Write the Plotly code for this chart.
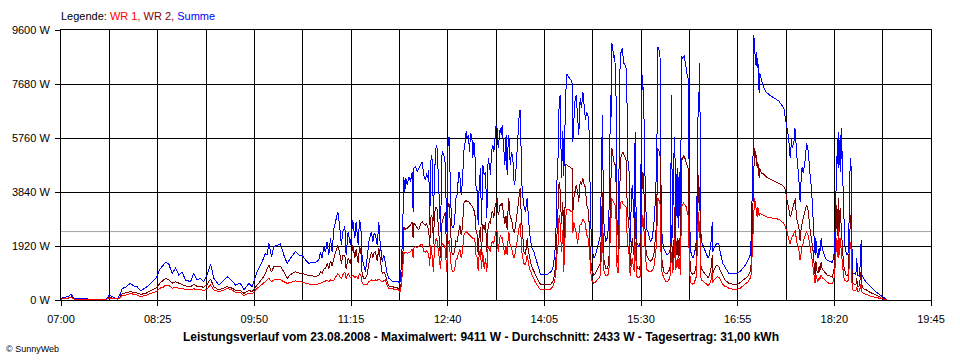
import plotly.graph_objects as go

# ---------------- data ----------------
tick_labels = ["07:00", "08:25", "09:50", "11:15", "12:40", "14:05", "15:30", "16:55", "18:20", "19:45"]
y_tick_values = [0, 1920, 3840, 5760, 7680, 9600]
average_w = 2433
series_names = ["WR 1", "WR 2", "Summe"]

# minutes after 07:00
minutes = [
    0, 3, 6, 9, 11, 14, 20, 25, 30, 35, 40, 42, 45, 48, 50, 52, 54, 57, 59, 61, 64, 67, 70, 72, 75, 78, 81, 84, 87, 90,
    91.9, 94.8, 97.7, 100.7, 103.6, 106.5, 109.5, 113.9, 116.8, 119.7, 122.7, 125.6, 128.5, 131.5, 134.4, 138.8,
    141.7, 146.1, 150.5, 153.4, 157.8, 160.8, 165.2, 168.1, 172.5, 176.9, 179.8,
    181.3, 182.7, 185.1, 187.1, 190.1, 193.0, 195.9, 198.9, 201.8, 206.2, 209.1, 212.1, 215.0, 217.9, 220.8, 223.8,
    226.7, 228.2, 229.6, 231.1, 232.6, 234.0, 235.5, 237.0, 238.4, 239.9, 241.4, 242.5, 243.4, 244.9, 246.6, 247.8,
    249.6, 250.7, 252.5, 254.5, 256.6, 258.4, 259.5, 261.3, 262.5, 263.6, 264.8, 266.3, 267.7, 269.2, 270.7, 273.0,
    274.2, 275.4, 276.5,
    278.0, 279.5, 280.3, 281.5, 282.4, 283.9, 285.3, 286.8, 288.3, 291.2, 294.1, 297.0, 297.9, 299.1, 300.3, 301.4,
    302.3, 303.2, 304.4, 305.8, 307.3, 308.8, 309.6, 310.2, 311.7, 313.2, 314.6, 316.1, 317.6, 319.0, 320.5, 321.4,
    322.5, 323.4, 324.3, 324.9, 325.8, 326.6, 327.5, 328.4, 329.9, 330.8, 332.2, 333.7, 335.1, 336.6, 338.1, 339.0,
    340.4, 341.3, 342.5, 343.4, 344.8, 346.0, 347.2, 348.3, 349.8, 350.7, 351.9, 353.0, 354.2, 355.1, 356.3, 357.1,
    358.3, 359.2, 360.1, 361.2, 362.1, 363.0, 363.9, 364.8, 366.0, 366.8, 367.7, 368.9,
    369.7, 370.9, 372.1, 373.3, 374.4, 375.6, 376.8, 377.7, 378.5, 379.7, 380.6, 381.5, 382.6, 383.5, 384.4, 385.0,
    386.2, 387.3, 387.9, 389.1, 390.3, 391.4, 392.3, 393.2, 393.8, 395.0, 396.1, 397.3, 398.5, 399.6, 400.8, 402.0,
    402.9, 403.7, 404.6, 405.5, 407.0, 408.4, 409.9, 410.8, 411.9, 413.1, 414.3, 415.8, 417.2, 418.7, 420.2, 421.6,
    424.5, 427.5, 430.4, 432.5, 434.2, 435.4, 436.3, 437.2, 438.0, 438.9, 440.1, 441.3, 442.1, 443.0, 443.9, 444.8,
    445.9, 447.1, 448.3, 449.5, 450.1, 450.9, 451.8, 453.0, 454.2, 455.3, 456.5, 457.7, 458.9, 460.0,
    461.2, 462.1, 463.2, 464.1, 465.0, 465.6, 466.2, 467.0, 468.5, 470.0, 471.4, 472.9, 474.4, 475.2, 476.1, 476.7,
    477.3, 478.8, 480.2, 481.7, 482.6, 483.2, 483.7, 484.3, 484.9, 485.5, 486.1, 486.7, 487.3, 487.9, 488.4, 489.0,
    489.9, 490.5, 491.4, 492.0, 492.5, 493.1, 493.7, 494.3, 494.9, 495.8, 496.6, 497.2, 497.8, 498.7, 499.6, 500.2,
    500.7, 501.6, 502.5, 503.4, 504.3, 504.8, 505.4, 506.0, 507.2, 508.4, 509.5, 510.4, 511.3, 511.9, 512.5, 513.1,
    513.9, 514.8, 516.0, 517.2, 518.3, 519.8, 521.3, 522.7, 523.6, 524.2, 524.8, 525.7, 526.2, 526.8, 527.4, 528.0,
    528.9, 530.1, 531.5, 533.0, 534.5, 535.9, 536.8, 537.7, 538.8, 539.7, 540.6, 541.8, 542.7, 543.5, 544.7, 545.6,
    546.5, 547.4, 548.2, 549.1, 550.0, 550.6, 551.4, 552.3, 553.3,
    554.4, 555.6, 556.7, 557.9, 558.8, 559.4, 560.0, 560.5, 561.1, 561.7, 562.3, 563.2, 564.3, 565.5, 566.7, 567.9,
    569.0, 570.2, 571.1, 572.0, 572.6, 573.1, 574.0, 575.5, 577.0, 578.4, 579.6, 580.8, 581.9, 583.7, 585.7, 587.2,
    590.1, 593.1, 595.4, 597.5, 599.5, 601.9, 604.2, 606.0, 606.9, 607.7, 608.3, 608.9, 609.2, 609.8, 610.4, 610.9,
    611.5, 612.1, 612.7, 613.3, 613.9, 614.5, 615.1, 615.9, 617.1, 618.3, 619.5, 620.9, 622.4, 623.8, 625.3, 626.8,
    628.2, 629.7, 631.2, 632.6, 634.1, 635.6, 636.5, 637.6, 638.5, 639.4, 640.3, 641.2, 641.7, 642.3, 642.9, 643.8,
    644.7, 645.2, 645.8,
    646.7, 647.3, 647.9, 648.8, 649.3, 649.9, 650.5, 651.1, 651.7, 652.6, 653.2, 653.7, 654.6, 655.5, 656.4, 657.3,
    658.1, 659.0, 659.6, 660.2, 660.8, 661.4, 661.9, 662.5, 663.1, 663.7, 664.3, 664.9, 665.5, 666.1, 666.6, 667.2,
    667.8, 668.4, 669.3, 670.2, 671.3, 672.2, 673.7, 675.1, 676.6, 678.1, 679.5, 680.4, 681.3, 682.2, 682.8, 683.3,
    683.9, 684.5, 685.1, 685.7, 686.3, 686.9, 687.4, 688.3, 689.2, 690.1, 691.3, 692.4, 693.3, 693.9, 694.5, 695.1,
    695.7, 696.5, 697.7, 698.9, 699.8, 700.3, 701.2, 702.1, 703.0, 703.6, 704.2, 705.3, 706.5, 708.3, 710.3, 712.4,
    714.7, 717.1, 719.4, 721.7, 723.5, 725.3, 726.4,
]

summe_w = [
    60, 100, 120, 200, 80, 40, 50, 30, 20, 30, 30, 160, 130, 60, 70, 200, 415, 450, 530, 593, 500, 470, 330, 380, 450, 560, 680, 800, 1100, 1250,
    1340, 1280, 948, 1126, 889, 984, 711, 652, 948, 711, 770, 652, 889, 1280, 770, 533,
    652, 830, 676, 533, 593, 356, 593, 474, 1007, 1363, 1659,
    1600, 2015, 1541, 1897, 1956, 1990, 1600, 1304, 1482, 1719, 1600, 1580, 1423, 1304, 1340, 1340,
    1423, 1700, 1500, 1900, 1700, 2074, 1600, 2193, 1700, 2548, 2785, 3000, 3141, 2667, 1956, 2430,
    2608, 1600, 2430, 1956, 2845, 2193, 2785, 1956, 2845, 2667, 1482, 1245, 1008, 1482, 2075, 2430,
    2075, 2371, 2312,
    1956, 2762, 2193, 1600, 1363, 1600, 1245, 949, 771, 676, 652, 652, 534, 1126, 2193, 4386,
    3853, 4327, 4090, 4386, 4208, 4564, 3141, 4682, 4742, 4564, 4682, 4801, 4919, 4445, 4267, 4504,
    4327, 4623, 2667, 4800, 5156, 4919, 2800, 4500, 5512, 5393, 3853, 2430, 5275, 5156, 4801, 2430,
    5690, 5808, 3853, 2667, 2549, 2726, 3615, 3734, 4564, 4445, 3734, 4208, 5275, 5512, 6010, 5749,
    5868, 5275, 5927, 5868, 5038, 5631, 5275, 4090, 3853, 2667, 4090, 4682,
    2667, 4801, 4445, 4564, 2904, 5038, 4801, 4445, 5275, 5512, 5275, 5868, 6223, 6105, 5393, 5631,
    6105, 5868, 6223, 5512, 4801, 5868, 4445, 5631, 5868, 4801, 5275, 5038, 4090, 4327, 5275, 6010,
    6579, 6757, 5038, 3853, 3378, 3141, 3615, 2904, 2430, 2075, 1838, 1719, 1541, 1363, 1126, 913,
    889, 913, 984, 1126, 1600, 2667, 4564, 5156, 7000, 7290, 4327, 6000, 4400, 6223, 7408, 8025,
    7942, 7882, 7823, 7705, 5631, 6342, 7053, 7290, 6697, 5868, 7171, 6816, 7408, 6816,
    6400, 6674, 6579, 6460, 4500, 3000, 2200, 1838, 1482, 1600, 1800, 2000, 2300, 4682, 6579, 4200,
    2800, 2075, 2193, 2667, 6223, 7290, 6500, 9127, 9009, 8831, 8594, 8712, 8238, 8001, 5038, 2430,
    2300, 3853, 8001, 8831, 8771, 8890, 8949, 8594, 8416, 8357, 8297, 8179, 5986, 4682, 4564, 2667,
    2075, 3853, 4090, 3141, 2667, 5986, 4682, 2075, 1956, 1900, 2075, 6816, 8001, 7408, 6934, 5038,
    3141, 2549, 2430, 2193, 2075, 2193, 2667, 3615, 4682, 6223, 9009, 8949, 8712, 8594, 4801, 2667,
    2075, 1838, 1719, 1600, 1660, 1838, 7290, 2193, 5038, 5808, 2667, 4682, 2549, 4564, 2193, 8653,
    8594, 8653, 8712, 8357, 8238, 8001, 7882, 4682, 1838,
    1600, 1482, 1600, 1838, 2193, 5986, 6223, 7408, 6816, 8416, 2667, 2075, 1956, 1778, 1719, 1600,
    1482, 1600, 2015, 2193, 2786, 1719, 1838, 1956, 2015, 2015, 1719, 1482, 1304, 1186, 1067, 949,
    949, 949, 960, 1032, 1126, 1245, 1423, 1600, 2193, 3853, 5038, 5868, 9411, 9068, 8949, 8357,
    8831, 8238, 8594, 8120, 7349, 8060, 8001, 7823, 7645, 7527, 7408, 7349, 7314, 7266, 7231, 7195,
    7171, 7112, 7077, 6994, 6911, 6816, 6579, 6342, 6105, 5868, 5512, 5038, 5275, 5749, 5393, 5512,
    5690, 6105, 5986,
    5275, 5038, 4682, 4327, 3853, 3497, 4090, 4564, 4742, 4504, 4682, 4801, 5038, 5571, 5393, 5275,
    4682, 4208, 3853, 3853, 3141, 2904, 2430, 1956, 1600, 2193, 1719, 1600, 1482, 1600, 1838, 1600,
    1956, 2193, 1838, 1719, 1600, 1482, 1423, 1387, 1363, 1340, 1482, 2075, 3615, 5038, 5749, 4682,
    5986, 4801, 5868, 4564, 6105, 5038, 4208, 2667, 1956, 1719, 1600, 1719, 3853, 4801, 5038, 4090,
    1008, 949, 949, 889, 1482, 889, 889, 830, 1482, 2134, 889, 771, 711, 629, 534, 474,
    356, 273, 202, 119, 59, 24, 0,
]

wr2_w = [
    30, 50, 60, 110, 40, 20, 25, 15, 10, 15, 15, 90, 70, 30, 40, 110, 237, 250, 280, 296, 270, 250, 200, 210, 240, 320, 380, 430, 600, 700,
    770, 720, 600, 650, 593, 560, 500, 474, 560, 480, 480, 450, 560, 750, 470, 356,
    400, 474, 420, 340, 330, 237, 340, 300, 533, 750, 950,
    1100, 1250, 1000, 1186, 1186, 1200, 1000, 771, 900, 1008, 960, 950, 900, 889, 860, 830,
    870, 1000, 950, 1100, 1126, 1300, 1100, 1400, 1200, 1482, 1700, 1800, 1956, 1700, 1300, 1600,
    1600, 1100, 1500, 1300, 1956, 1500, 1800, 1300, 1897, 1800, 900, 771, 771, 900, 1300, 1719,
    1500, 1700, 1719,
    1400, 1837, 1600, 1200, 949, 1000, 900, 650, 500, 474, 440, 415, 297, 600, 1200, 2608,
    2500, 2550, 2549, 2600, 2667, 2786, 2200, 2750, 2667, 2600, 2489, 2700, 2786, 2700, 2667, 2700,
    2600, 2430, 1900, 2904, 3000, 2900, 2000, 3100, 3319, 3200, 2430, 1500, 2786, 3000, 3141, 1500,
    3438, 3400, 2667, 1700, 1600, 1700, 2100, 2075, 2500, 2667, 2300, 2600, 3438, 3500, 3556, 3500,
    3497, 3450, 3400, 3378, 3300, 3200, 3100, 2500, 2300, 1600, 2300, 2600,
    1600, 2700, 2500, 2786, 1700, 2600, 2800, 2700, 3100, 3141, 2904, 3300, 3500, 3615, 3023, 3100,
    3400, 3378, 3450, 3000, 2700, 3000, 2500, 3300, 3615, 2900, 2900, 2549, 2400, 2600, 3023, 3300,
    3800, 3971, 3141, 2430, 1719, 1600, 2193, 1800, 1500, 1300, 1150, 1000, 900, 771, 652, 557,
    534, 534, 557, 652, 950, 1600, 2667, 3200, 4208, 3900, 2700, 3500, 1600, 2904, 4801, 4801,
    4760, 4742, 4700, 4682, 3141, 3615, 3900, 4090, 3853, 3500, 4208, 4100, 4327, 4100,
    4000, 3378, 3300, 3000, 2000, 1482, 1200, 1008, 889, 950, 1050, 1150, 1300, 2667, 3853, 2075,
    1482, 1126, 1100, 1300, 2430, 3615, 4200, 5393, 5275, 5038, 4919, 4900, 4801, 4682, 2667, 1400,
    1300, 2300, 4801, 5038, 5100, 5156, 5200, 5275, 5156, 5100, 5038, 4900, 3378, 2900, 2500, 1482,
    1200, 2000, 2193, 1700, 1482, 3141, 2700, 1245, 1126, 1100, 1245, 3141, 4564, 4500, 3971, 3000,
    2000, 1600, 1500, 1400, 1380, 1450, 1600, 2193, 2667, 4000, 5393, 5300, 5275, 5100, 2800, 1600,
    1245, 1008, 949, 949, 1030, 1245, 2667, 1245, 1719, 3300, 1482, 2193, 1500, 2200, 1245, 5038,
    4979, 5156, 5100, 4919, 4850, 4801, 4700, 2667, 1067,
    949, 913, 949, 1067, 1300, 2600, 3200, 4445, 3300, 4000, 1300, 1100, 1050, 950, 900, 850,
    800, 880, 1000, 1245, 1600, 950, 1067, 1186, 1245, 1186, 1067, 949, 830, 720, 652, 600,
    569, 557, 569, 629, 700, 771, 850, 1008, 1300, 2300, 3200, 3853, 5275, 5393, 5275, 5038,
    5156, 4682, 4919, 4564, 4327, 4682, 4564, 4504, 4504, 4460, 4386, 4350, 4327, 4300, 4267, 4240,
    4208, 4180, 4149, 4110, 4090, 4030, 3971, 3734, 3497, 3319, 3141, 2964, 3000, 3141, 3200, 3319,
    3438, 3480, 3615,
    2904, 2786, 2700, 2608, 2300, 2100, 2430, 2667, 2750, 2900, 3023, 3100, 3260, 3378, 3300, 3100,
    2667, 2430, 2300, 2193, 1956, 1719, 1423, 1200, 889, 1400, 1100, 1000, 950, 1000, 1200, 1000,
    1200, 1363, 1100, 1050, 1008, 930, 889, 870, 830, 818, 1008, 1400, 2300, 3378, 2800, 2193,
    3615, 2430, 3260, 2700, 2600, 2200, 1700, 1200, 1000, 900, 866, 949, 2193, 2667, 3023, 2193,
    652, 593, 560, 534, 771, 474, 474, 520, 889, 1008, 534, 415, 380, 356, 297, 260,
    200, 150, 119, 59, 30, 12, 0,
]

wr1_w = [
    30, 50, 60, 90, 40, 20, 25, 15, 10, 15, 15, 70, 60, 30, 30, 90, 154, 170, 200, 237, 200, 180, 120, 130, 170, 220, 270, 300, 420, 460,
    533, 520, 420, 450, 415, 400, 370, 356, 400, 360, 370, 340, 400, 533, 360, 296,
    330, 415, 350, 280, 260, 154, 250, 220, 415, 550, 650,
    711, 770, 650, 711, 711, 720, 650, 593, 620, 676, 650, 640, 600, 557, 540, 534,
    560, 600, 620, 650, 652, 700, 650, 720, 680, 711, 800, 900, 948, 850, 750, 900,
    1000, 760, 950, 800, 889, 800, 850, 760, 949, 900, 600, 534, 534, 560, 650, 711,
    700, 711, 711,
    700, 740, 720, 680, 650, 680, 711, 520, 420, 400, 380, 356, 260, 500, 1000, 1719,
    1650, 1700, 1660, 1700, 1719, 1800, 1500, 1850, 1897, 1860, 1900, 1956, 1956, 1719, 1700, 1750,
    1700, 1600, 1200, 1956, 1800, 1200, 1000, 1900, 2193, 2100, 1600, 1100, 2000, 1956, 1800, 1000,
    2075, 2100, 1482, 1100, 1000, 1050, 1400, 1482, 1700, 1800, 1500, 1700, 2312, 2350, 2430, 2400,
    2350, 2312, 2312, 2250, 2200, 2193, 2150, 1600, 1500, 1050, 1600, 1800,
    1100, 1700, 1100, 1482, 1000, 1900, 1800, 1719, 2000, 2100, 2015, 2300, 2489, 2430, 1719, 1956,
    2300, 2193, 2250, 1900, 1600, 1900, 1600, 2200, 2430, 1900, 1900, 1600, 1500, 1700, 2075, 2400,
    2600, 2726, 2015, 1600, 1304, 1245, 1600, 1300, 1100, 1000, 880, 720, 620, 534, 415, 356,
    356, 356, 391, 474, 700, 1100, 1719, 2000, 3023, 2700, 1700, 2500, 1008, 2000, 3000, 3201,
    3201, 3201, 3150, 3141, 2400, 2786, 2600, 2400, 2000, 2400, 2700, 2700, 2880, 2800,
    2700, 2312, 2250, 2000, 1400, 1126, 850, 676, 593, 640, 700, 780, 900, 1719, 2667, 1482,
    1067, 860, 850, 950, 1719, 2430, 2900, 3615, 3560, 3497, 3450, 3400, 3378, 3141, 1800, 1000,
    950, 1500, 3201, 3438, 3500, 3497, 3500, 3400, 3378, 3350, 3319, 3300, 2193, 1800, 1600, 1008,
    860, 1400, 1482, 1100, 1008, 2075, 1700, 860, 800, 800, 850, 2075, 3023, 2900, 2430, 2000,
    1400, 1100, 1050, 1000, 1000, 1050, 1150, 1600, 1956, 2800, 3615, 3556, 3500, 3400, 2000, 1067,
    913, 771, 676, 652, 711, 889, 1719, 949, 1245, 2200, 1067, 1482, 1100, 1500, 900, 3438,
    3378, 3438, 3400, 3378, 3300, 3141, 3000, 1719, 652,
    593, 557, 593, 711, 850, 1800, 2400, 3141, 2300, 2800, 900, 700, 680, 620, 600, 560,
    520, 560, 650, 771, 1008, 620, 711, 771, 830, 813, 711, 629, 557, 480, 463, 420,
    391, 391, 391, 427, 500, 557, 652, 771, 900, 1600, 2300, 2700, 3400, 3615, 3497, 3319,
    3260, 2964, 3319, 3141, 3000, 3080, 3080, 3050, 3023, 3000, 2964, 2950, 2940, 2930, 2920, 2910,
    2904, 2890, 2870, 2830, 2786, 2726, 2650, 2550, 2430, 2250, 2080, 1980, 2100, 2193, 2250, 2300,
    2371, 2400, 2489,
    2075, 2015, 1956, 1838, 1482, 1423, 1600, 1838, 1900, 2000, 2193, 2250, 2312, 2430, 2350, 2250,
    2015, 1838, 1719, 1482, 1363, 1126, 1008, 889, 593, 900, 800, 700, 650, 700, 800, 720,
    820, 889, 800, 760, 740, 680, 629, 600, 593, 581, 711, 1000, 1600, 2193, 1900, 1482,
    2549, 1600, 2193, 1900, 1700, 1500, 1100, 800, 700, 680, 652, 711, 1600, 1900, 2075, 1482,
    415, 356, 340, 320, 474, 297, 297, 330, 474, 590, 297, 237, 220, 202, 154, 119,
    110, 83, 59, 36, 20, 10, 0,
]

title_text = ("Leistungsverlauf vom 23.08.2008 - Maximalwert: 9411 W - Durchschnitt: 2433 W"
              " - Tagesertrag: 31,00 kWh")
legend_prefix = "Legende: "
copyright_text = "© SunnyWeb"

colors = {"WR 1": "#FF0000", "WR 2": "#800000", "Summe": "#0000FF"}

# ---------------- figure ----------------
def to_minutes(label):
    h, m = label.split(":")
    return (int(h) - 7) * 60 + int(m)

tick_pos = [to_minutes(s) for s in tick_labels]

fig = go.Figure()
fig.add_trace(go.Scatter(x=minutes, y=summe_w, mode="lines", name="Summe",
                         line=dict(color=colors["Summe"], width=1)))
fig.add_trace(go.Scatter(x=minutes, y=wr2_w, mode="lines", name="WR 2",
                         line=dict(color=colors["WR 2"], width=1)))
fig.add_trace(go.Scatter(x=minutes, y=wr1_w, mode="lines", name="WR 1",
                         line=dict(color=colors["WR 1"], width=1)))

font_family = "Liberation Sans, Arial, sans-serif"

fig.add_shape(type="line", xref="paper", x0=0, x1=1, yref="y", y0=average_w, y1=average_w,
              line=dict(color="#A0A0A0", width=1), layer="below")

legend_html = (legend_prefix
               + f"<span style='color:{colors['WR 1']}'>WR 1,</span> "
               + f"<span style='color:{colors['WR 2']}'>WR 2,</span> "
               + f"<span style='color:{colors['Summe']}'>Summe</span>")
fig.add_annotation(text=legend_html, xref="paper", yref="paper", x=-0.002, y=1.052,
                   xanchor="left", yanchor="middle", showarrow=False,
                   font=dict(family=font_family, size=11, color="black"))
fig.add_annotation(text="<b>" + title_text + "</b>", xref="paper", yref="paper", x=0.483, y=-0.137,
                   xanchor="center", yanchor="middle", showarrow=False,
                   font=dict(family=font_family, size=12, color="black"))
fig.add_annotation(text=copyright_text, xref="paper", yref="paper", x=-0.065, y=-0.183,
                   xanchor="left", yanchor="middle", showarrow=False,
                   font=dict(family=font_family, size=9, color="black"))

axis_common = dict(showgrid=True, gridcolor="black", gridwidth=1, showline=True, linecolor="black",
                   linewidth=1, mirror=True, zeroline=False, ticks="outside", ticklen=5,
                   tickcolor="black", tickwidth=1,
                   tickfont=dict(family=font_family, size=11, color="black"))

fig.update_xaxes(range=[0, 765], tickmode="array", tickvals=tick_pos, ticktext=tick_labels,
                 ticklabelstandoff=4,
                 minor=dict(dtick=42.5, tick0=0, showgrid=True, gridcolor="black", gridwidth=1, ticks=""),
                 **axis_common)
fig.update_yaxes(range=[0, 9600], tickmode="array", tickvals=y_tick_values,
                 ticklabelstandoff=3,
                 ticktext=[f"{v} W" for v in y_tick_values], **axis_common)

fig.update_layout(width=960, height=360, margin=dict(l=61, r=29, t=30, b=60),
                  plot_bgcolor="white", paper_bgcolor="white", showlegend=False,
                  font=dict(family=font_family, size=11, color="black"))

post_js = ("document.body.style.margin='0px';"
           "document.querySelectorAll('.scatterlayer path.js-line').forEach(function(p){"
           "p.style.shapeRendering='crispEdges';});")
fig.write_html("out.html", config={"displayModeBar": False}, post_script=post_js)
